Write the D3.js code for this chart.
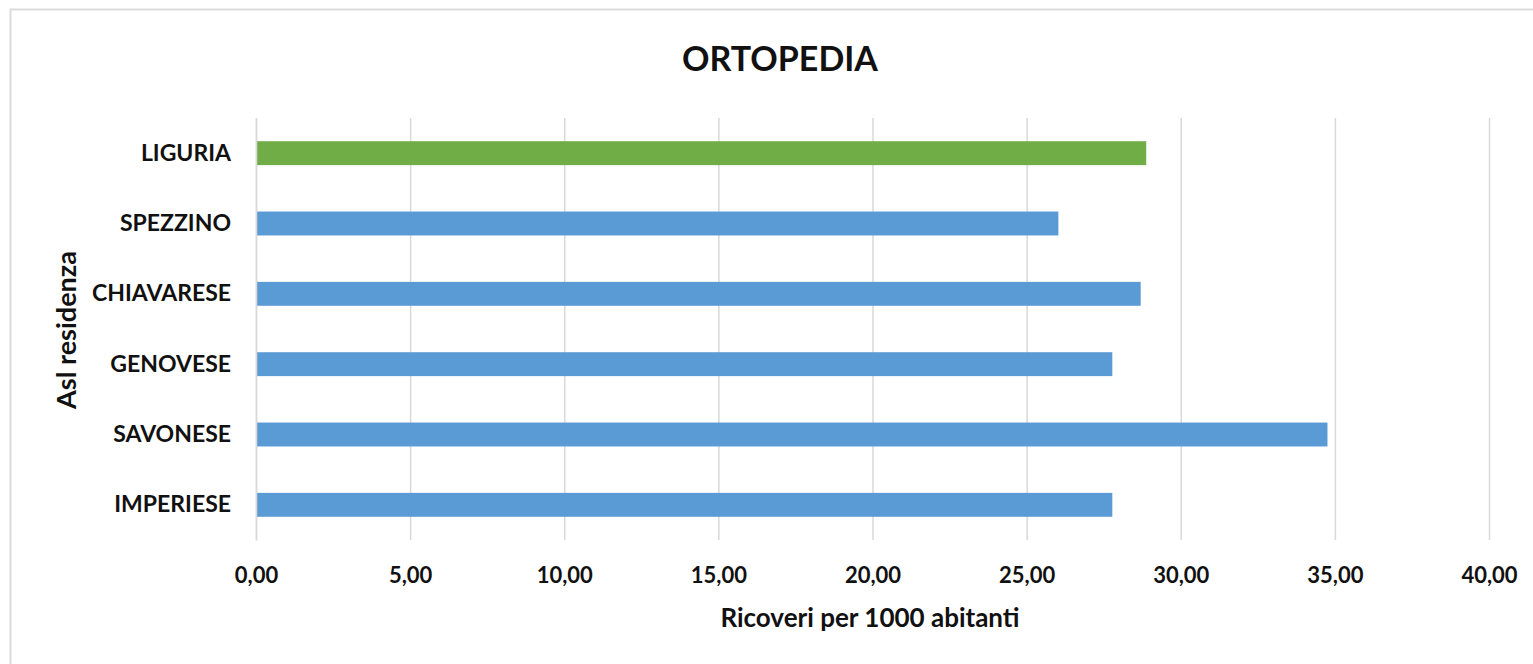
<!DOCTYPE html>
<html>
<head>
<meta charset="utf-8">
<script src="https://cdn.jsdelivr.net/npm/d3@7"></script>
<style>
  html, body { margin: 0; padding: 0; background: #fff; }
  svg { display: block; }
  text { font-family: Lato, "Open Sans", sans-serif; font-weight: bold; fill: #111; }
</style>
</head>
<body>
<svg id="chart" width="1533" height="664"></svg>
<script>
// Hospital admissions for orthopaedics, per 1000 residents, by local health authority
const categories = ["LIGURIA", "SPEZZINO", "CHIAVARESE", "GENOVESE", "SAVONESE", "IMPERIESE"];
const values = [28.88, 26.03, 28.70, 27.78, 34.76, 27.78];
const barColors = ["#70ad47", "#5b9bd5", "#5b9bd5", "#5b9bd5", "#5b9bd5", "#5b9bd5"];
const xTicks = [0, 5, 10, 15, 20, 25, 30, 35, 40];
const title = "ORTOPEDIA";
const xTitle = "Ricoveri per 1000 abitanti";
const yTitle = "Asl residenza";

const svg = d3.select("#chart");
const W = 1533, H = 664;
const plot = { left: 256, right: 1489, top: 118, bottom: 540 };

// outer chart frame
svg.append("rect")
  .attr("x", 10.5).attr("y", 9.5)
  .attr("width", W + 20).attr("height", H + 20)
  .attr("fill", "none").attr("stroke", "#dcdcdc").attr("stroke-width", 2);

const x = d3.scaleLinear().domain([0, 40]).range([plot.left, plot.right]);
const y = d3.scaleBand().domain(categories).range([plot.top, plot.bottom]).paddingInner(0.66).paddingOuter(0.33);

// vertical gridlines
const fmt = v => d3.format(".2f")(v).replace(".", ",");
const xAxis = d3.axisBottom(x).tickValues(xTicks).tickFormat(fmt)
  .tickSize(-(plot.bottom - plot.top)).tickPadding(27);
const gx = svg.append("g").attr("transform", `translate(0,${plot.bottom})`).call(xAxis);
gx.select(".domain").remove();
gx.selectAll(".tick line").attr("stroke", "#d9d9d9").attr("stroke-width", 1.5);
gx.selectAll(".tick text").attr("font-size", 22).attr("fill", "#111")
  .style("font-family", "Lato, sans-serif").style("font-weight", "bold");

// bars
svg.append("g").selectAll("rect").data(categories).join("rect")
  .attr("x", x(0))
  .attr("y", d => y(d))
  .attr("width", (d, i) => x(values[i]) - x(0))
  .attr("height", y.bandwidth())
  .attr("fill", (d, i) => barColors[i]);

// category axis
const yAxis = d3.axisLeft(y).tickSize(0).tickPadding(25);
const gy = svg.append("g").attr("transform", `translate(${plot.left},0)`).call(yAxis);
gy.select(".domain").attr("stroke", "#d9d9d9").attr("stroke-width", 1.5);
gy.selectAll(".tick text").attr("font-size", 23).attr("fill", "#111")
  .style("font-family", "Lato, sans-serif").style("font-weight", "bold");

// titles
svg.append("text").attr("x", 780).attr("y", 71).attr("text-anchor", "middle")
  .attr("font-size", 34).text(title);
svg.append("text").attr("x", 870).attr("y", 627).attr("text-anchor", "middle")
  .attr("font-size", 26).text(xTitle);
svg.append("text").attr("transform", "translate(76,330) rotate(-90)").attr("text-anchor", "middle")
  .attr("font-size", 27).text(yTitle);
</script>
</body>
</html>
